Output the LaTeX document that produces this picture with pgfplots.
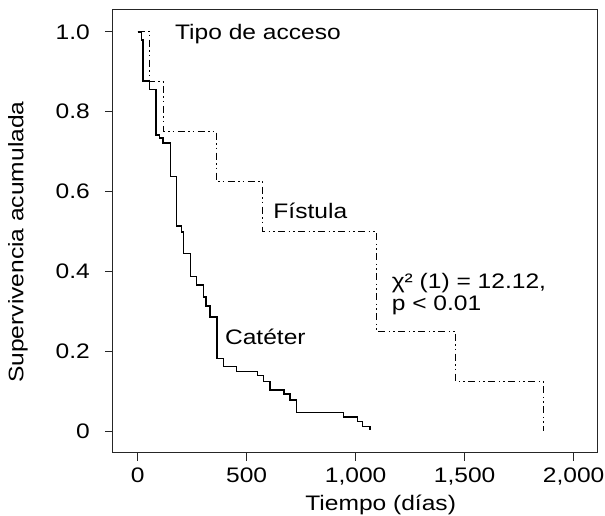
\documentclass[border=0pt]{standalone}
\usepackage{fontspec}
\setmainfont{Liberation Sans}[FakeStretch=1.17]
\usepackage{pgfplots}
\pgfplotsset{compat=1.18}
\begin{document}
\begin{tikzpicture}[font=\fontsize{21}{25}\selectfont]
\begin{axis}[
  scale only axis, width=484pt, height=443pt,
  xmin=-113, xmax=2107, ymin=-0.055, ymax=1.055,
  xtick={0,500,1000,1500,2000},
  xticklabels={0,500,{1,000},{1,500},{2,000}},
  ytick={0,0.2,0.4,0.6,0.8,1},
  yticklabels={0,0.2,0.4,0.6,0.8,1.0},
  tick align=outside, tick pos=left, major tick length=8pt,
  axis line style={line width=1pt, black!85},
  tick style={line width=1pt, black!85},
  yticklabel style={inner sep=0pt, xshift=-15pt},
  xticklabel style={inner sep=0pt, yshift=-7pt},
  xlabel={Tiempo (días)},
  ylabel={Supervivencia acumulada},
  xlabel style={at={(axis description cs:0.553,-0.1287)}, anchor=base, inner sep=0pt},
  ylabel style={at={(axis description cs:-0.2169,0.476)}, anchor=north, inner sep=0pt},
  clip=false,
]
\coordinate (sw) at (rel axis cs:0,0);
% Cateter
\addplot[const plot mark left, black, line width=1.3pt, mark=none] coordinates {
(0,1) (17,0.980) (24,0.877) (56,0.855) (84,0.742) (99,0.734) (116,0.722)
(150,0.637) (179,0.514) (202,0.499) (209,0.445) (242,0.387) (270,0.366)
(301,0.336) (313,0.313) (332,0.286) (364,0.182) (393,0.161) (455,0.149)
(549,0.140) (576,0.124) (607,0.103) (671,0.093) (699,0.078) (730,0.046)
(943,0.035) (1007,0.024) (1032,0.011) (1066,0.003)
};
% Fistula
\addplot[const plot mark left, black, line width=1pt, mark=none,
  dash pattern=on 7pt off 3.5pt on 1.5pt off 3pt on 1.5pt off 3.5pt] coordinates {
(0,1) (56,0.875) (120,0.75) (364,0.625) (575,0.5) (1094,0.25) (1460,0.125) (1860,0)
};
\node[anchor=base west, inner sep=0pt] at (axis cs:171,0.982) {Tipo de acceso};
\node[anchor=base west, inner sep=0pt] at (axis cs:622,0.533) {Fístula};
\node[anchor=base west, inner sep=0pt] at (axis cs:400,0.218) {Catéter};
\node[anchor=base west, inner sep=0pt] at (axis cs:1165,0.358) {χ² (1) = 12.12,};
\node[anchor=base west, inner sep=0pt] at (axis cs:1165,0.303) {p < 0.01};
\end{axis}
\pgfresetboundingbox
\path ([xshift=-113pt,yshift=-63pt]sw) rectangle ++(605pt,516pt);
\end{tikzpicture}
\end{document}
